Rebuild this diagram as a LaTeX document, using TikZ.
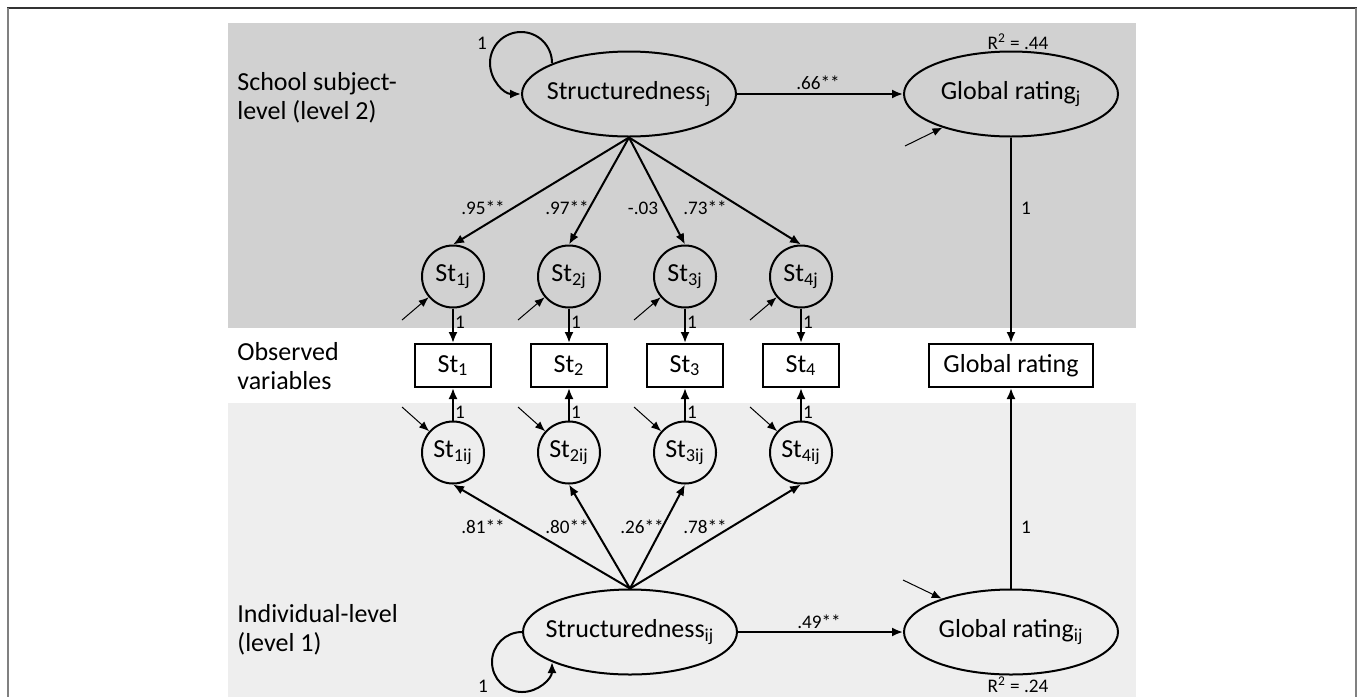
\documentclass[tikz,border=0pt]{standalone}
\usepackage{fontspec}
\setmainfont{Carlito}
\usetikzlibrary{arrows.meta,shapes.geometric}
\definecolor{upperbg}{gray}{0.82}
\definecolor{lowerbg}{gray}{0.935}

\begin{document}
\begin{tikzpicture}[x=0.5pt,y=-0.5pt,
  font=\fontsize{13}{14.5}\selectfont,
  latent/.style={ellipse,draw,line width=1pt,inner sep=0pt,minimum width=107pt,minimum height=42.5pt},
  factor/.style={circle,draw,line width=1pt,inner sep=0pt,minimum size=31pt},
  obs/.style={rectangle,draw,line width=1pt,inner sep=0pt,minimum height=21.5pt},
  reg/.style={line width=1pt,-{Latex[length=5.5pt,width=4.5pt]}},
  err/.style={line width=0.5pt,-{Latex[length=5pt,width=4pt]}},
  coef/.style={font=\fontsize{9.6}{11}\selectfont,inner sep=0pt},
  levtxt/.style={anchor=west,align=left,inner sep=0pt}]
\useasboundingbox (0,0) rectangle (1358,697);
\fill[upperbg] (228,23) rectangle (1136,328);
\fill[lowerbg] (228,403) rectangle (1136,697);
\draw[line width=1pt,black!80] (7,8) -- (1357,8);
\draw[line width=1pt,black!50] (7.5,8) -- (7.5,697);
\draw[line width=1pt,black!50] (1355.7,8) -- (1355.7,697);

\node[levtxt] (lv2) at (237,98) {School subject-\\level (level 2)};
\node[levtxt] (lv0) at (237,366) {Observed\\variables};
\node[levtxt] (lv1) at (237,630) {Individual-level\\(level 1)};

\node[latent] (sj) at (629,94) {\makebox[0pt]{Structuredness\textsubscript{j}}};
\node[latent] (gj) at (1011,94) {\makebox[0pt]{Global rating\textsubscript{j}}};
\node[latent] (sij) at (630,632) {\makebox[0pt]{Structuredness\textsubscript{ij}}};
\node[latent] (gij) at (1011,632) {\makebox[0pt]{Global rating\textsubscript{ij}}};

\node[factor] (s1j) at (453,276.5) {St\textsubscript{1j}};
\node[factor] (s2j) at (569,276.5) {St\textsubscript{2j}};
\node[factor] (s3j) at (685,276.5) {St\textsubscript{3j}};
\node[factor] (s4j) at (801,276.5) {St\textsubscript{4j}};

\node[obs,minimum width=38pt] (x1) at (453,365.5) {St\textsubscript{1}};
\node[obs,minimum width=38pt] (x2) at (569,365.5) {St\textsubscript{2}};
\node[obs,minimum width=38pt] (x3) at (685,365.5) {St\textsubscript{3}};
\node[obs,minimum width=38pt] (x4) at (801,365.5) {St\textsubscript{4}};
\node[obs,minimum width=82pt] (gr) at (1011,365.5) {Global rating};

\node[factor] (s1ij) at (453,452.5) {St\textsubscript{1ij}};
\node[factor] (s2ij) at (569,452.5) {St\textsubscript{2ij}};
\node[factor] (s3ij) at (685,452.5) {St\textsubscript{3ij}};
\node[factor] (s4ij) at (801,452.5) {St\textsubscript{4ij}};

\draw[reg] (sj) -- (gj);
\draw[reg] (sij) -- (gij);
\draw[reg] (gj) -- (gr);
\draw[reg] (gij) -- (gr);
\draw[reg] (sj.west) ++(31,-31) arc[start angle=0,end angle=-270,radius=31];
\draw[reg] (sij.west) arc[start angle=-90,end angle=-360,radius=30];

\draw[reg] (sj.south) -- (s1j.north);
\draw[reg] (sj.south) -- (s2j.north);
\draw[reg] (sj.south) -- (s3j.north);
\draw[reg] (sj.south) -- (s4j.north);
\draw[reg] (sij.north) -- (s1ij.south);
\draw[reg] (sij.north) -- (s2ij.south);
\draw[reg] (sij.north) -- (s3ij.south);
\draw[reg] (sij.north) -- (s4ij.south);

\draw[reg] (s1j) -- (x1);
\draw[reg] (s2j) -- (x2);
\draw[reg] (s3j) -- (x3);
\draw[reg] (s4j) -- (x4);
\draw[reg] (s1ij) -- (x1);
\draw[reg] (s2ij) -- (x2);
\draw[reg] (s3ij) -- (x3);
\draw[reg] (s4ij) -- (x4);

\coordinate (e1j) at (402,320);
\coordinate (e2j) at (518,320);
\coordinate (e3j) at (634,320);
\coordinate (e4j) at (750,320);
\coordinate (e1ij) at (402,407);
\coordinate (e2ij) at (518,407);
\coordinate (e3ij) at (634,407);
\coordinate (e4ij) at (750,407);
\coordinate (egj) at (905,146);
\coordinate (egij) at (903,580);
\draw[err] (e1j) -- (s1j);
\draw[err] (e2j) -- (s2j);
\draw[err] (e3j) -- (s3j);
\draw[err] (e4j) -- (s4j);
\draw[err] (e1ij) -- (s1ij);
\draw[err] (e2ij) -- (s2ij);
\draw[err] (e3ij) -- (s3ij);
\draw[err] (e4ij) -- (s4ij);
\draw[err] (egj) -- (gj);
\draw[err] (egij) -- (gij);

\node[coef] (c1j) at (483,208) {.95**};
\node[coef] (c2j) at (567,208) {.97**};
\node[coef] (c3j) at (643,208) {-.03};
\node[coef] (c4j) at (705,208) {.73**};
\node[coef] (c1ij) at (483,527) {.81**};
\node[coef] (c2ij) at (567,527) {.80**};
\node[coef] (c3ij) at (642,527) {.26**};
\node[coef] (c4ij) at (705,527) {.78**};
\node[coef] (bj) at (818,83) {.66**};
\node[coef] (bij) at (819,622) {.49**};
\node[coef] (r2j) at (1018,42) {R\textsuperscript{2} = .44};
\node[coef] (r2ij) at (1018,685) {R\textsuperscript{2} = .24};
\node[coef] (vj) at (482,43) {1};
\node[coef] (vij) at (483,686) {1};
\node[coef] (f1j) at (460,322) {1};
\node[coef] (f2j) at (576,322) {1};
\node[coef] (f3j) at (692,322) {1};
\node[coef] (f4j) at (808,322) {1};
\node[coef] (f1ij) at (460,412) {1};
\node[coef] (f2ij) at (576,412) {1};
\node[coef] (f3ij) at (692,412) {1};
\node[coef] (f4ij) at (808,412) {1};
\node[coef] (fgj) at (1026,208) {1};
\node[coef] (fgij) at (1026,527) {1};
\end{tikzpicture}
\end{document}
